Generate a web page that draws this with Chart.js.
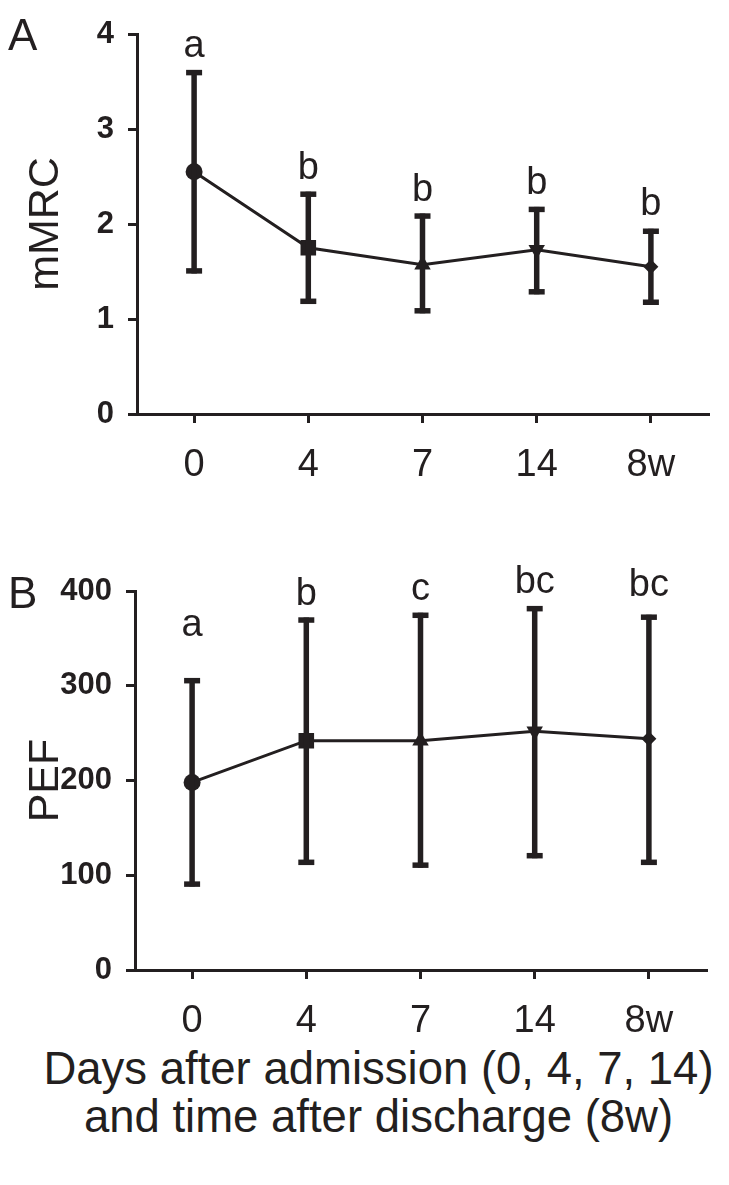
<!DOCTYPE html>
<html><head><meta charset="utf-8">
<script src="https://cdn.jsdelivr.net/npm/chart.js@4.4.1/dist/chart.umd.min.js"></script>
<style>
html,body{margin:0;padding:0;background:#fff;width:729px;height:1185px;overflow:hidden;}
.wrap{position:absolute;left:0;width:729px;height:500px;}
#wrapA{top:0;}
#wrapB{top:540px;}
#caption{position:absolute;left:14px;top:1045px;width:729px;text-align:center;font-family:"Liberation Sans",Arial,sans-serif;font-size:45.5px;line-height:48px;color:#231f20;}
</style></head><body>
<div class="wrap" id="wrapA"><canvas id="chartA" width="729" height="500"></canvas></div>
<div class="wrap" id="wrapB"><canvas id="chartB" width="729" height="500"></canvas></div>
<div id="caption">Days after admission (0, 4, 7, 14)<br>and time after discharge (8w)</div>
<script>
// ---- data ----
const categories = ['0', '4', '7', '14', '8w'];
const mmrcMean  = [2.55, 1.75, 1.57, 1.73, 1.55];
const mmrcUpper = [3.62, 2.34, 2.11, 2.18, 1.95];
const mmrcLower = [1.48, 1.16, 1.06, 1.26, 1.15];
const mmrcLetters = ['a', 'b', 'b', 'b', 'b'];
const mmrcTicks = [0, 1, 2, 3, 4];

const pefMean  = [198, 242, 242, 252, 244];
const pefUpper = [308, 372, 377, 384, 375];
const pefLower = [88, 111, 108, 118, 111];
const pefLetters = ['a', 'b', 'c', 'bc', 'bc'];
const pefTicks = [0, 100, 200, 300, 400];

// ---- styling ----
const INK = '#231f20';
const FONT = '"Liberation Sans", Arial, sans-serif';
const pointStyles = ['circle', 'rect', 'triangle', 'triangle', 'rectRot'];
const pointRotations = [0, 0, 0, 180, 0];
const pointRadii = [8.5, 11, 9.5, 9.5, 7.5];

const errorBarPlugin = {
  id: 'errbars',
  afterDatasetsDraw(chart, args, opts) {
    const ctx = chart.ctx;
    const xs = chart.scales.x, ys = chart.scales.y;
    ctx.save();
    ctx.strokeStyle = INK;
    ctx.lineCap = 'butt';
    opts.upper.forEach((u, i) => {
      const x = xs.getPixelForValue(i);
      const yu = ys.getPixelForValue(u);
      const yl = ys.getPixelForValue(opts.lower[i]);
      ctx.lineWidth = 5.5;
      ctx.beginPath(); ctx.moveTo(x, yu); ctx.lineTo(x, yl); ctx.stroke();
      ctx.beginPath(); ctx.moveTo(x - 8, yu + 2.5); ctx.lineTo(x + 8, yu + 2.5); ctx.stroke();
      ctx.beginPath(); ctx.moveTo(x - 8, yl - 2.5); ctx.lineTo(x + 8, yl - 2.5); ctx.stroke();
    });
    ctx.fillStyle = INK;
    ctx.font = '38px ' + FONT;
    ctx.textAlign = 'center';
    ctx.textBaseline = 'alphabetic';
    opts.letters.forEach((t, i) => {
      const x = xs.getPixelForValue(i);
      const yu = ys.getPixelForValue(opts.upper[i]);
      ctx.fillText(t, x, yu - opts.gaps[i]);
    });
    ctx.font = '44px ' + FONT;
    ctx.textAlign = 'left';
    ctx.fillText(opts.panel, 8, opts.panelY);
    ctx.restore();
  }
};

function makeChart(id, mean, upper, lower, letters, gaps, ticks, yTitle, panel, panelY, pad, yWidth, xHeight) {
  return new Chart(document.getElementById(id), {
    type: 'line',
    data: {
      labels: categories,
      datasets: [{
        data: mean,
        borderColor: INK,
        borderWidth: 3,
        backgroundColor: INK,
        pointBackgroundColor: INK,
        pointBorderColor: INK,
        pointBorderWidth: 0,
        pointStyle: pointStyles,
        pointRotation: pointRotations,
        pointRadius: pointRadii,
        tension: 0
      }]
    },
    options: {
      responsive: false,
      animation: false,
      events: [],
      layout: { padding: pad },
      plugins: {
        legend: { display: false },
        tooltip: { enabled: false },
        errbars: { upper, lower, letters, gaps, panel, panelY }
      },
      scales: {
        x: {
          type: 'category',
          offset: true,
          grid: { offset: false, drawOnChartArea: false, drawTicks: true, tickLength: 9, color: INK, lineWidth: 3 },
          border: { display: true, color: INK, width: 3 },
          ticks: { color: INK, font: { family: FONT, size: 38 }, padding: 20, maxRotation: 0 },
          afterFit(s) { s.height = xHeight; }
        },
        y: {
          type: 'linear',
          min: ticks[0],
          max: ticks[ticks.length - 1],
          afterBuildTicks(s) { s.ticks = ticks.map(v => ({ value: v })); },
          grid: { drawOnChartArea: false, drawTicks: true, tickLength: 9, color: INK, lineWidth: 3 },
          border: { display: true, color: INK, width: 3 },
          ticks: { color: INK, font: { family: FONT, size: 31, weight: 'bold' }, padding: 14 },
          title: { display: true, text: yTitle, color: INK, font: { family: FONT, size: 43 }, padding: { top: 20, bottom: 0 } },
          afterFit(s) { s.width = yWidth; }
        }
      }
    },
    plugins: [errorBarPlugin]
  });
}

makeChart('chartA', mmrcMean, mmrcUpper, mmrcLower, mmrcLetters, [13, 13, 13, 13, 14], mmrcTicks, 'mMRC', 'A', 50,
  { top: 34, right: 21, left: 0, bottom: 0 }, 137, 86);
makeChart('chartB', pefMean, pefUpper, pefLower, pefLetters, [42, 13, 13, 13, 19], pefTicks, 'PEF', 'B', 68,
  { top: 51, right: 23, left: 0, bottom: 0 }, 135, 70);
</script>
</body></html>
